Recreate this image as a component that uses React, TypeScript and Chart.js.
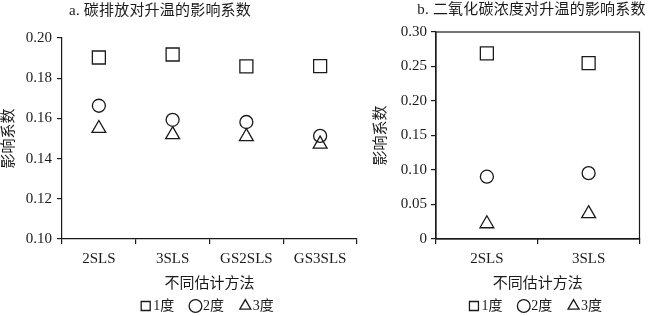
import React, { useEffect, useRef } from "react";
import { Chart, registerables } from "chart.js";

Chart.register(...registerables);

// ---- data ----
const categoriesA = ["2SLS", "3SLS", "GS2SLS", "GS3SLS"];
const categoriesB = ["2SLS", "3SLS"];
const seriesNames = ["1度", "2度", "3度"];
const a1 = [0.1903, 0.1918, 0.1859, 0.186];
const a2 = [0.1663, 0.1593, 0.1582, 0.1513];
const a3 = [0.155, 0.1519, 0.1509, 0.1472];
const b1 = [0.269, 0.255];
const b2 = [0.0903, 0.0954];
const b3 = [0.0221, 0.0367];
const ticksA = [0.1, 0.12, 0.14, 0.16, 0.18, 0.2];
const ticksB = [0, 0.05, 0.1, 0.15, 0.2, 0.25, 0.3];
const titleA = "a. 碳排放对升温的影响系数";
const titleB = "b. 二氧化碳浓度对升温的影响系数";
const xTitle = "不同估计方法";
const yTitle = "影响系数";

const FONT = "'Liberation Serif', 'Times New Roman', 'Noto Sans CJK SC', serif";
const INK = "#1a1a1a";

const panelTitle = {
  id: "panelTitle",
  afterDraw(chart: any, _args: any, opts: any) {
    const ctx = chart.ctx;
    ctx.save();
    ctx.font = `${opts.size}px ${FONT}`;
    try { (ctx as any).letterSpacing = opts.spacing; } catch (e) {}
    ctx.fillStyle = INK;
    ctx.textAlign = "center";
    ctx.textBaseline = "middle";
    ctx.fillText(opts.text, opts.x, opts.y);
    ctx.restore();
  },
};

const frame = {
  id: "frame",
  afterDraw(chart: any, _args: any, opts: any) {
    if (!opts.show) return;
    const { left, top, right, bottom } = chart.chartArea;
    const ctx = chart.ctx;
    ctx.save();
    ctx.strokeStyle = INK;
    ctx.lineWidth = 1.2;
    ctx.strokeRect(left, top, right - left, bottom - top);
    ctx.restore();
  },
};

function makeConfig(
  cats: string[],
  s1: number[],
  s2: number[],
  s3: number[],
  ticks: number[],
  opts: any
) {
  const common = {
    showLine: false,
    borderColor: INK,
    backgroundColor: "rgba(0,0,0,0)",
    pointBackgroundColor: "rgba(0,0,0,0)",
    pointBorderColor: INK,
    pointBorderWidth: 1.3,
    borderWidth: 1.3,
  };
  return {
    type: "line",
    data: {
      labels: cats,
      datasets: [
        { ...common, label: seriesNames[0], data: s1, pointStyle: "rect", pointRadius: 9.2 },
        { ...common, label: seriesNames[1], data: s2, pointStyle: "circle", pointRadius: 6.5 },
        { ...common, label: seriesNames[2], data: s3, pointStyle: "triangle", pointRadius: 8 },
      ],
    },
    options: {
      responsive: false,
      animation: false,
      events: [],
      layout: { padding: { top: opts.top, right: opts.right, left: 0, bottom: -1 } },
      plugins: {
        title: { display: false },
        tooltip: { enabled: false },
        legend: {
          display: true,
          position: "bottom",
          fullSize: false,
          maxHeight: 22,
          labels: {
            usePointStyle: true,
            boxWidth: 1,
            boxHeight: 9,
            padding: 4,
            color: INK,
            font: { family: FONT, size: 14 },
            generateLabels(chart: any) {
              const items = Chart.defaults.plugins.legend.labels.generateLabels(chart);
              return items.map((it: any, i: number) => ({
                ...it,
                text: i < items.length - 1 ? it.text + "\u2003\u2009" : it.text,
              }));
            },
          },
        },
        panelTitle: { text: opts.title, x: opts.titleX, y: opts.titleY, size: 15, spacing: "0.2px" },
        frame: { show: opts.frame },
      },
      scales: {
        x: {
          type: "category",
          offset: true,
          grid: {
            display: true,
            offset: true,
            drawOnChartArea: false,
            drawTicks: true,
            tickLength: 5,
            color: INK,
            lineWidth: 1.2,
          },
          border: { display: true, color: INK, width: 1.2 },
          ticks: { color: INK, padding: 6, font: { family: FONT, size: 15 }, maxRotation: 0 },
          title: {
            display: true,
            text: xTitle,
            color: INK,
            font: { family: FONT, size: 15 },
            padding: { top: 1, bottom: 2 },
          },
        },
        y: {
          min: ticks[0],
          max: ticks[ticks.length - 1],
          afterBuildTicks(scale: any) {
            scale.ticks = ticks.map((v) => ({ value: v }));
          },
          afterFit(scale: any) {
            scale.width = opts.yWidth;
          },
          grid: {
            display: true,
            drawOnChartArea: false,
            drawTicks: true,
            tickLength: 5,
            color: INK,
            lineWidth: 1.2,
          },
          border: { display: true, color: INK, width: 1.2 },
          ticks: {
            color: INK,
            padding: opts.yPad,
            font: { family: FONT, size: 15 },
            callback: (v: number) => (Math.abs(v) < 1e-9 ? "0" : Number(v).toFixed(2)),
          },
          title: {
            display: true,
            text: yTitle,
            color: INK,
            font: { family: FONT, size: 15 },
            padding: { top: opts.yTitlePad, bottom: 0 },
          },
        },
      },
    },
    plugins: [panelTitle, frame],
  } as any;
}

function Panel(props: { config: any; width: number; height: number; left: number }) {
  const ref = useRef<HTMLCanvasElement | null>(null);
  useEffect(() => {
    if (!ref.current) return;
    const chart = new Chart(ref.current, props.config);
    return () => chart.destroy();
  }, []);
  return (
    <div style={{ position: "absolute", left: props.left, top: 0, width: props.width, height: props.height }}>
      <canvas ref={ref} width={props.width} height={props.height} style={{ display: "block" }} />
    </div>
  );
}

export default function App() {
  const cfgA = makeConfig(categoriesA, a1, a2, a3, ticksA, {
    top: 38,
    right: 13,
    yWidth: 62,
    yPad: 5,
    yTitlePad: 0,
    title: titleA,
    titleX: 160,
    titleY: 11,
    frame: false,
  });
  const cfgB = makeConfig(categoriesB, b1, b2, b3, ticksB, {
    top: 32,
    right: 2,
    yWidth: 66,
    yPad: 4,
    yTitlePad: 2.5,
    title: titleB,
    titleX: 161.5,
    titleY: 10,
    frame: true,
  });
  return (
    <div style={{ position: "fixed", left: 0, top: 0, width: 650, height: 316, background: "#fff" }}>
      <Panel config={cfgA} width={370} height={316} left={0} />
      <Panel config={cfgB} width={280} height={316} left={370} />
    </div>
  );
}
